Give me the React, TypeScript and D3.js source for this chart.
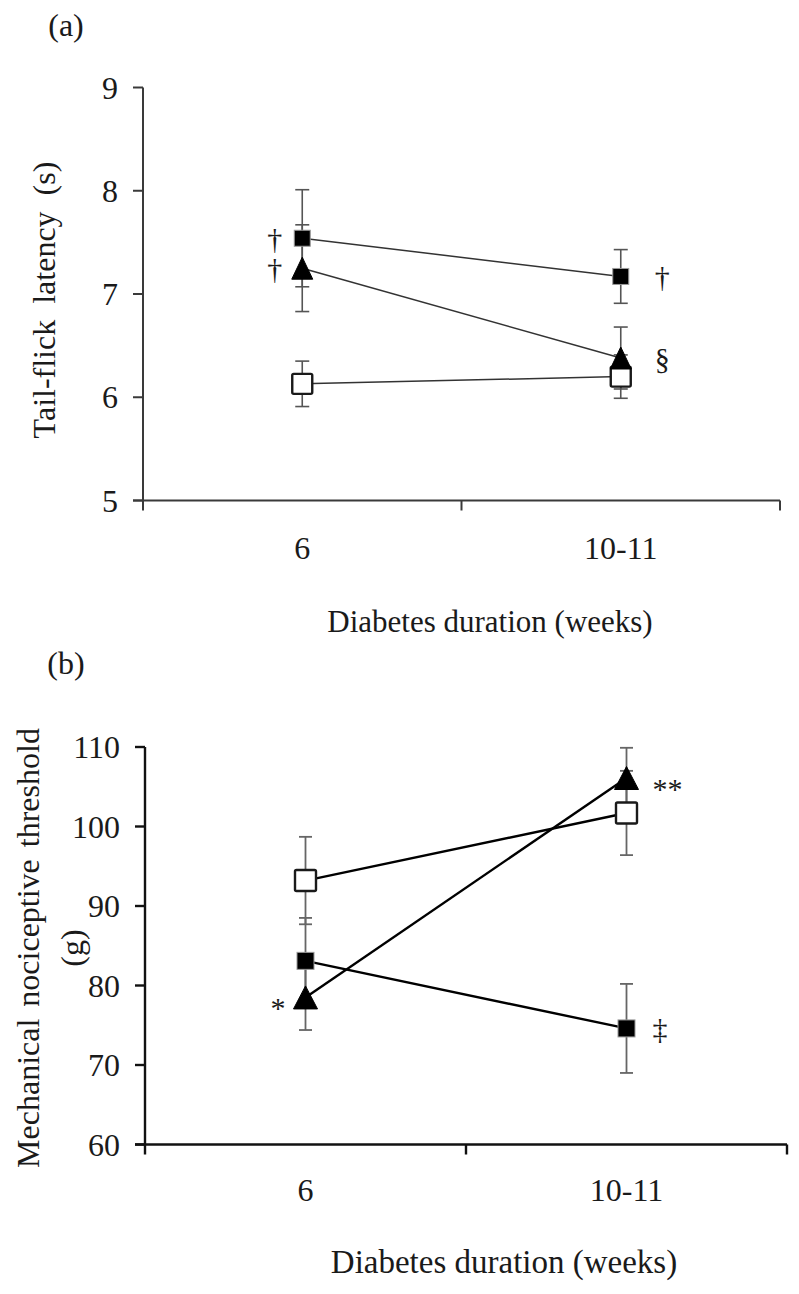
import React from "react";
import * as d3 from "d3";

// ---------- data ----------
const categories = ["6", "10-11"];

// Panel (a): tail-flick latency (s)
const tfTicks = [5, 6, 7, 8, 9];
const tfOpenSq = [6.13, 6.2];
const tfOpenSqErr = [0.22, 0.21];
const tfFilledSq = [7.54, 7.17];
const tfFilledSqErr = [0.47, 0.26];
const tfTri = [7.25, 6.38];
const tfTriErr = [0.42, 0.3];
const tfAnnotations = [
  { series: "filled", index: 0, text: "†", side: "left" },
  { series: "tri", index: 0, text: "†", side: "left" },
  { series: "filled", index: 1, text: "†", side: "right" },
  { series: "tri", index: 1, text: "§", side: "right" },
];

// Panel (b): mechanical nociceptive threshold (g)
const mnTicks = [60, 70, 80, 90, 100, 110];
const mnOpenSq = [93.2, 101.7];
const mnOpenSqErr = [5.5, 5.3];
const mnFilledSq = [83.1, 74.6];
const mnFilledSqErr = [5.4, 5.6];
const mnTri = [78.5, 106.1];
const mnTriErr = [4.1, 3.8];
const mnAnnotations = [
  { series: "tri", index: 0, text: "*", side: "left" },
  { series: "tri", index: 1, text: "**", side: "right" },
  { series: "filled", index: 1, text: "‡", side: "right" },
];

const FONT = "'Liberation Serif', 'Times New Roman', serif";

type Series = { key: string; values: number[]; errs: number[] };

type PanelProps = {
  label: string;
  labelY: number;
  left: number;
  right: number;
  top: number;
  bottom: number;
  domain: [number, number];
  ticks: number[];
  series: Series[];
  annotations: { series: string; index: number; text: string; side: string }[];
  yTitle: string[];
  yTitleX: number[];
  yTitleY: number;
  yTitleSize: number;
  yTitleSpacing: number;
  xTickY: number;
  xTitleX: number;
  xTitleY: number;
  xTitleSize: number;
  axisColor: string;
  axisWidth: number;
  lineColor: string;
  lineWidth: number;
  errColor: string;
  errWidth: number;
  capW: number;
  filledSize: number;
  openSize: number;
  triW: number;
  triH: number;
  rightAnnDx: number;
};

function Panel(p: PanelProps) {
  const x = d3.scaleBand<string>().domain(categories).range([p.left, p.right]);
  const cx = (c: string) => (x(c) as number) + x.bandwidth() / 2;
  const y = d3.scaleLinear().domain(p.domain).range([p.bottom, p.top]);
  const line = d3
    .line<number>()
    .x((_, i) => cx(categories[i]))
    .y((v) => y(v));
  const tickLen = 10;
  const byKey: Record<string, Series> = {};
  p.series.forEach((s) => (byKey[s.key] = s));

  const boundaries = [p.left, ...categories.map((c) => (x(c) as number) + x.bandwidth())];

  const marker = (key: string, px: number, py: number, k: string) => {
    if (key === "open") {
      const s = p.openSize;
      return (
        <rect key={k} x={px - s / 2} y={py - s / 2} width={s} height={s} rx={1.5}
          fill="#fff" stroke="#1a1a1a" strokeWidth={2.4} />
      );
    }
    if (key === "filled") {
      const s = p.filledSize;
      return (
        <rect key={k} x={px - s / 2} y={py - s / 2} width={s} height={s}
          fill="#000" stroke="#9a9a9a" strokeWidth={1} />
      );
    }
    const w = p.triW, h = p.triH;
    const pts = `${px},${py - h / 2} ${px + w / 2},${py + h / 2} ${px - w / 2},${py + h / 2}`;
    return <polygon key={k} points={pts} fill="#000" stroke="#000" strokeWidth={1} strokeLinejoin="miter" />;
  };

  return (
    <g fontFamily={FONT} fill="#1a1a1a">
      <text x={66} y={p.labelY} fontSize={32} textAnchor="middle" dominantBaseline="central">{p.label}</text>

      {/* y title */}
      {p.yTitle.map((t, i) => (
        <text key={i} transform={`translate(${p.yTitleX[i]},${p.yTitleY}) rotate(-90)`}
          fontSize={p.yTitleSize} textAnchor="middle" dominantBaseline="central" wordSpacing={p.yTitleSpacing}>{t}</text>
      ))}

      {/* y axis */}
      <line x1={p.left} x2={p.left} y1={p.top} y2={p.bottom + tickLen} stroke={p.axisColor} strokeWidth={p.axisWidth} />
      {p.ticks.map((t) => (
        <g key={t}>
          <line x1={p.left - tickLen} x2={p.left} y1={y(t)} y2={y(t)} stroke={p.axisColor} strokeWidth={p.axisWidth} />
          <text x={p.left - 25} y={y(t)} fontSize={32} textAnchor="end" dominantBaseline="central">{t}</text>
        </g>
      ))}

      {/* x axis */}
      <line x1={p.left - tickLen} x2={p.right} y1={p.bottom} y2={p.bottom} stroke={p.axisColor} strokeWidth={p.axisWidth} />
      {boundaries.slice(1).map((bx, i) => (
        <line key={i} x1={bx} x2={bx} y1={p.bottom} y2={p.bottom + tickLen} stroke={p.axisColor} strokeWidth={p.axisWidth} />
      ))}
      {categories.map((c) => (
        <text key={c} x={cx(c)} y={p.xTickY} fontSize={32} textAnchor="middle" dominantBaseline="central">{c}</text>
      ))}
      <text x={p.xTitleX} y={p.xTitleY} fontSize={p.xTitleSize} textAnchor="middle" dominantBaseline="central">
        Diabetes duration (weeks)
      </text>

      {/* series lines */}
      {p.series.map((s) => (
        <path key={s.key} d={line(s.values) as string} fill="none" stroke={p.lineColor} strokeWidth={p.lineWidth} />
      ))}

      {/* error bars */}
      {p.series.map((s) =>
        s.values.map((v, i) => {
          const px = cx(categories[i]);
          const y1 = y(v + s.errs[i]);
          const y2 = y(v - s.errs[i]);
          return (
            <g key={s.key + i} stroke={p.errColor} strokeWidth={p.errWidth}>
              <line x1={px} x2={px} y1={y1} y2={y2} />
              <line x1={px - p.capW / 2} x2={px + p.capW / 2} y1={y1} y2={y1} />
              <line x1={px - p.capW / 2} x2={px + p.capW / 2} y1={y2} y2={y2} />
            </g>
          );
        })
      )}

      {/* markers */}
      {p.series.map((s) => s.values.map((v, i) => marker(s.key, cx(categories[i]), y(v), s.key + "m" + i)))}

      {/* annotations */}
      {p.annotations.map((a, i) => {
        const s = byKey[a.series];
        const px = cx(categories[a.index]);
        const py = y(s.values[a.index]);
        const isStar = a.text.indexOf("*") >= 0;
        const left = a.side === "left";
        return (
          <text key={i} x={left ? px - 20 : px + p.rightAnnDx} y={py + (isStar ? 10 : 0)}
            fontSize={30} textAnchor={left ? "end" : "start"} dominantBaseline="central">{a.text}</text>
        );
      })}
    </g>
  );
}

export default function App() {
  return (
    <svg width={799} height={1294} style={{ position: "absolute", left: 0, top: 0, background: "#fff" }}>
      <rect width={799} height={1294} fill="#fff" />
      <Panel
        label="(a)" labelY={25}
        left={143} right={780} top={87.5} bottom={500.5}
        domain={[5, 9]} ticks={tfTicks}
        series={[
          { key: "open", values: tfOpenSq, errs: tfOpenSqErr },
          { key: "filled", values: tfFilledSq, errs: tfFilledSqErr },
          { key: "tri", values: tfTri, errs: tfTriErr },
        ]}
        annotations={tfAnnotations}
        yTitle={["Tail-flick latency (s)"]} yTitleX={[44]} yTitleY={300} yTitleSize={32} yTitleSpacing={8}
        xTickY={548} xTitleX={490} xTitleY={621} xTitleSize={31}
        axisColor="#3a3a3a" axisWidth={2}
        lineColor="#333" lineWidth={1.5}
        errColor="#555" errWidth={1.6} capW={14}
        filledSize={16} openSize={20} triW={21} triH={22}
        rightAnnDx={34}
      />
      <Panel
        label="(b)" labelY={663}
        left={145} right={787} top={747} bottom={1144.5}
        domain={[60, 110]} ticks={mnTicks}
        series={[
          { key: "open", values: mnOpenSq, errs: mnOpenSqErr },
          { key: "filled", values: mnFilledSq, errs: mnFilledSqErr },
          { key: "tri", values: mnTri, errs: mnTriErr },
        ]}
        annotations={mnAnnotations}
        yTitle={["Mechanical nociceptive threshold", "(g)"]} yTitleX={[28, 72]} yTitleY={948} yTitleSize={32} yTitleSpacing={4}
        xTickY={1190} xTitleX={504} xTitleY={1262} xTitleSize={33}
        axisColor="#111" axisWidth={2.4}
        lineColor="#000" lineWidth={2.4}
        errColor="#666" errWidth={1.8} capW={13}
        filledSize={17} openSize={21} triW={24} triH={23}
        rightAnnDx={26}
      />
    </svg>
  );
}
